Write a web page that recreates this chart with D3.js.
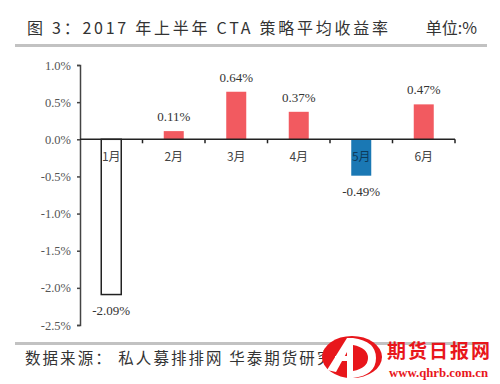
<!DOCTYPE html>
<html><head><meta charset="utf-8">
<script src="https://cdn.jsdelivr.net/npm/d3@7/dist/d3.min.js"></script>
<style>body{margin:0;background:#fff;}svg{display:block;}</style>
</head><body>
<svg id="c" width="500" height="384"></svg>
<script>
const categories = ["1月","2月","3月","4月","5月","6月"];
const values = [-2.09, 0.11, 0.64, 0.37, -0.49, 0.47];
const yTicks = [1.0, 0.5, 0.0, -0.5, -1.0, -1.5, -2.0, -2.5];
const title = "图 3：2017 年上半年 CTA 策略平均收益率";
const unit = "单位:%";
const source = "数据来源： 私人募排排网 华泰期货研究所";

const svg = d3.select("#c");
const serif = "'Noto Sans CJK SC','DejaVu Serif',serif";
const tickFont = "'Liberation Serif','DejaVu Serif',serif";

svg.append("text").attr("x",27).attr("y",34).attr("font-family",serif).attr("font-size",16).attr("fill","#333")
  .attr("textLength",361).attr("lengthAdjust","spacing").text(title);
svg.append("text").attr("x",477).attr("y",34).attr("text-anchor","end").attr("font-family",serif).attr("font-size",16).attr("fill","#333").text(unit);
svg.append("rect").attr("x",15).attr("y",44).attr("width",472).attr("height",3).attr("fill","#c2c2c2");
svg.append("rect").attr("x",15).attr("y",342).attr("width",472).attr("height",3).attr("fill","#c2c2c2");

const x = d3.scaleBand().domain(categories).range([80,455]).paddingInner(0).paddingOuter(0);
const y = d3.scaleLinear().domain([-2.5,1.0]).range([325,65]);
const bw = 20;

// y axis
const ya = svg.append("g").attr("transform","translate(80,0)")
  .call(d3.axisLeft(y).tickValues(yTicks).tickSize(3).tickPadding(6).tickFormat(d=>d.toFixed(1)+"%"));
ya.select(".domain").attr("stroke","#444").attr("stroke-width",1.5);
ya.selectAll(".tick line").attr("stroke","#444").attr("stroke-width",1.5);
ya.selectAll("text").attr("font-family",tickFont).attr("font-size",12.5).attr("fill","#555");

// bars
const colors = values.map((v,i)=> i===0 ? "#fff" : (v<0 ? "#1a78b4" : "#f25a60"));
svg.append("g").selectAll("rect").data(values).join("rect")
  .attr("x",(d,i)=>x(categories[i])+x.bandwidth()/2-bw/2)
  .attr("y",d=>y(Math.max(0,d)))
  .attr("width",bw)
  .attr("height",d=>Math.abs(y(d)-y(0)))
  .attr("fill",(d,i)=>colors[i])
  .attr("stroke",(d,i)=> i===0 ? "#222" : "none")
  .attr("stroke-width",1.5);

// category labels
svg.append("g").selectAll("text").data(categories).join("text")
  .attr("x",d=>x(d)+x.bandwidth()/2).attr("y",161).attr("text-anchor","middle")
  .attr("font-family",serif).attr("font-size",12).attr("fill",(d,i)=> i===4 ? "#0d3b5c" : "#444").text(d=>d);

// x axis line and ticks
svg.append("line").attr("x1",80).attr("x2",455).attr("y1",y(0)).attr("y2",y(0)).attr("stroke","#222").attr("stroke-width",1.5);
const bounds = categories.map(c=>x(c)).concat([x.range()[1]]);
svg.append("g").selectAll("line").data(bounds.slice(1)).join("line")
  .attr("x1",d=>d).attr("x2",d=>d).attr("y1",y(0)).attr("y2",y(0)+4).attr("stroke","#222").attr("stroke-width",1.5);

// value labels
svg.append("g").selectAll("text").data(values).join("text")
  .attr("x",(d,i)=>x(categories[i])+x.bandwidth()/2)
  .attr("y",d=> d>=0 ? y(d)-10 : y(d)+20)
  .attr("text-anchor","middle").attr("font-family",tickFont).attr("font-size",13).attr("fill","#333")
  .text(d=>d.toFixed(2)+"%");

// source
svg.append("text").attr("x",25).attr("y",364).attr("font-family",serif).attr("font-size",15.5).attr("fill","#333")
  .attr("textLength",325).attr("lengthAdjust","spacing").text(source);

// watermark logo
const wm = svg.append("g");
wm.append("ellipse").attr("cx",352).attr("cy",357).attr("rx",30).attr("ry",21).attr("fill","#e8161b");
wm.append("path").attr("d","M347 378 L347 338 L353 338 Q376 341 376 358 Q376 375 353 378 Z M353 345 L353 371 Q368 368 368 358 Q368 348 353 345 Z").attr("fill","#fff").attr("fill-rule","evenodd");
wm.append("path").attr("d","M327 370 L347 338 L347 352 L336 372 Z").attr("fill","#fff");
wm.append("rect").attr("x",335).attr("y",356).attr("width",12).attr("height",5).attr("fill","#fff");
wm.append("text").attr("x",387).attr("y",358).attr("font-family","'Noto Sans CJK SC',sans-serif").attr("font-weight","bold").attr("font-size",19).attr("fill","#e8161b")
  .attr("textLength",103).attr("lengthAdjust","spacing").text("期货日报网");
wm.append("text").attr("x",389).attr("y",377).attr("font-family","'Liberation Serif',serif").attr("font-weight","bold").attr("font-size",11.5).attr("fill","#e8161b")
  .attr("textLength",99).attr("lengthAdjust","spacingAndGlyphs").text("www.qhrb.com.cn");
</script>
</body></html>
